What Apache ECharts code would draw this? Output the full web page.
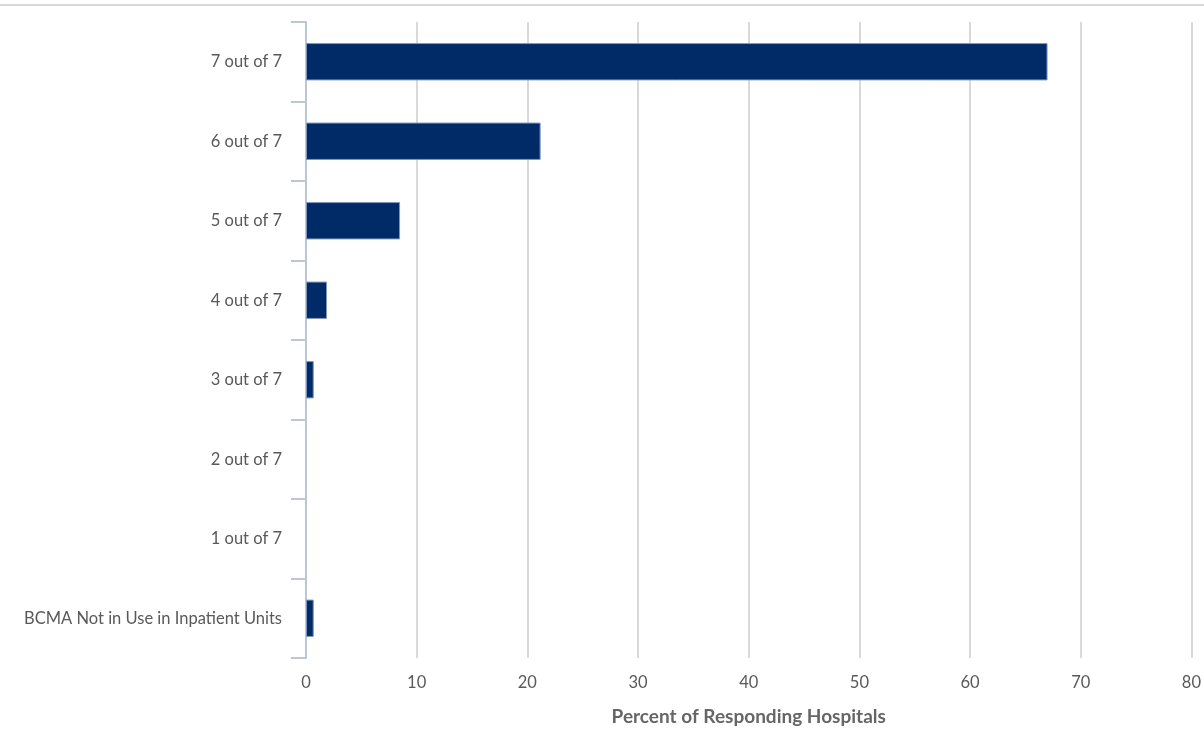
<!DOCTYPE html>
<html><head><meta charset="utf-8">
<script src="https://cdn.jsdelivr.net/npm/echarts@6/dist/echarts.min.js"></script>
<style>html,body{margin:0;padding:0;background:#fff}#c{width:1204px;height:731px}</style>
</head><body><div id="c"></div>
<script>
const categories = ["BCMA Not in Use in Inpatient Units","1 out of 7","2 out of 7","3 out of 7","4 out of 7","5 out of 7","6 out of 7","7 out of 7"];
const values = [0.7, 0, 0, 0.7, 1.9, 8.5, 21.2, 67];
const xTicks = [0,10,20,30,40,50,60,70,80];
const chart = echarts.init(document.getElementById('c'));
chart.setOption({
  animation:false,
  graphic:[{type:'line',shape:{x1:0,y1:5,x2:1204,y2:5},style:{stroke:'#d9d9d9',lineWidth:2}}],
  grid:{left:306,right:9,top:22,bottom:73},
  xAxis:{type:'value',min:xTicks[0],max:xTicks[xTicks.length-1],interval:10,
    axisLine:{show:false},axisTick:{show:false},
    splitLine:{show:true,lineStyle:{color:'#d9d9d9',width:2}},
    axisLabel:{color:'#595959',fontSize:16.5,fontFamily:'Lato',margin:16},
    name:'Percent of Responding Hospitals',nameLocation:'middle',nameGap:49,
    nameTextStyle:{color:'#666666',fontSize:19,fontWeight:'bold',fontFamily:'Lato'}},
  yAxis:{type:'category',data:categories,
    axisLine:{show:true,lineStyle:{color:'#b8c7da',width:2}},
    axisTick:{show:true,length:15,lineStyle:{color:'#b8c7da',width:2}},
    axisLabel:{color:'#595959',fontSize:16.5,fontFamily:'Lato',margin:24,padding:[3,0,0,0]},
    splitLine:{show:false}},
  series:[{type:'bar',
    data:values.map(v => v === 0 ? {value:v,itemStyle:{borderWidth:0}} : v),
    barCategoryGap:'53%',
    itemStyle:{color:'#002b66',borderColor:'#7d97ba',borderWidth:1}}]
});
</script></body></html>
